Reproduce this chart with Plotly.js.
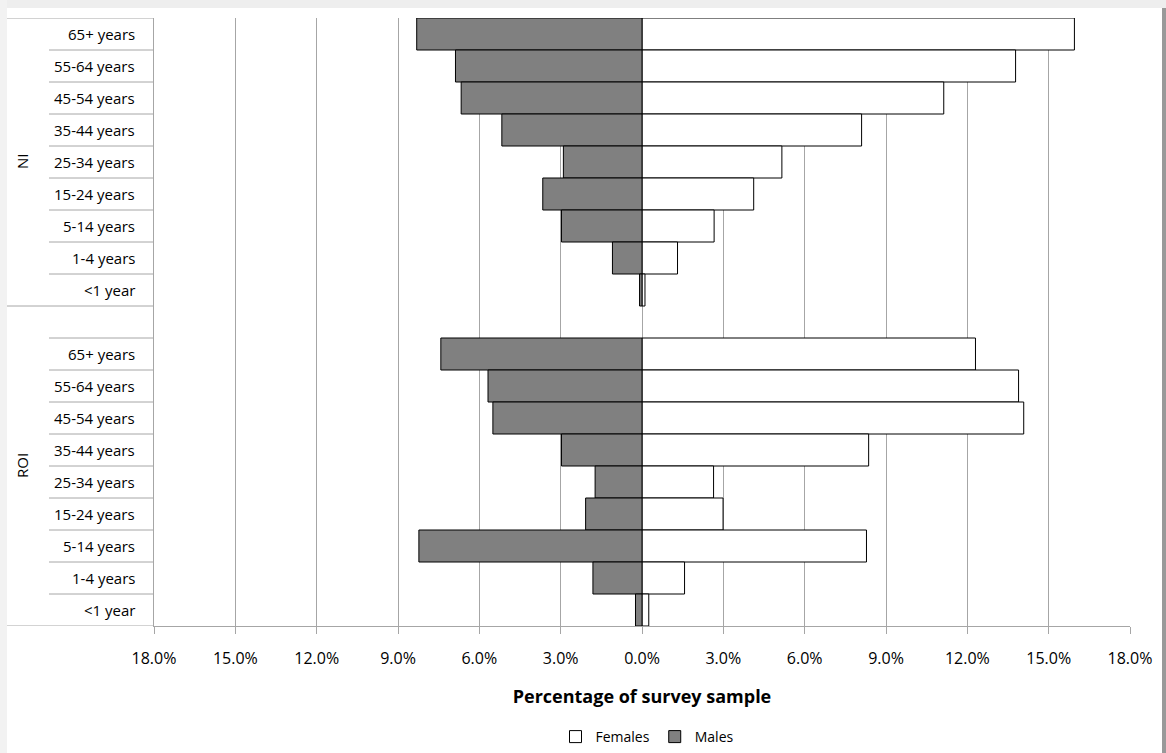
<!DOCTYPE html>
<html>
<head>
<meta charset="utf-8">
<script src="https://cdn.plot.ly/plotly-3.0.1.min.js"></script>
<style>
  html, body { margin: 0; padding: 0; background: #ffffff; overflow: hidden; }
  #chart { width: 1166px; height: 753px; }
</style>
</head>
<body>
<div id="chart"></div>
<script>
// ---- data (percent of survey sample) ----
var ageGroups = ["65+ years", "55-64 years", "45-54 years", "35-44 years", "25-34 years",
                 "15-24 years", "5-14 years", "1-4 years", "<1 year"];
var regions = ["NI", "ROI"];
var niFemales  = [15.95, 13.78, 11.13, 8.10, 5.16, 4.12, 2.66, 1.31, 0.11];
var niMales    = [8.31, 6.88, 6.67, 5.17, 2.90, 3.66, 2.97, 1.09, 0.09];
var roiFemales = [12.30, 13.89, 14.08, 8.36, 2.64, 2.99, 8.28, 1.57, 0.25];
var roiMales   = [7.42, 5.68, 5.50, 2.97, 1.73, 2.08, 8.23, 1.81, 0.24];
var tickValues = [-18, -15, -12, -9, -6, -3, 0, 3, 6, 9, 12, 15, 18];
var seriesNames = ["Females", "Males"];
var xTitle = "Percentage of survey sample";

// ---- categories (bottom to top) ----
function key(region, age) { return region + " | " + age; }
var blankKey = "ROI | ";
var catOrder = [];
for (var i = ageGroups.length - 1; i >= 0; i--) catOrder.push(key("ROI", ageGroups[i]));
catOrder.push(blankKey);
for (var i = ageGroups.length - 1; i >= 0; i--) catOrder.push(key("NI", ageGroups[i]));

var yCats = [], femVals = [], maleVals = [];
ageGroups.forEach(function (a, i) { yCats.push(key("NI", a)); femVals.push(niFemales[i]); maleVals.push(-niMales[i]); });
ageGroups.forEach(function (a, i) { yCats.push(key("ROI", a)); femVals.push(roiFemales[i]); maleVals.push(-roiMales[i]); });

// ---- layout geometry ----
var FW = 1166, FH = 753, ML = 154, MR = 36, MT = 18, MB = 127;
var PW = FW - ML - MR, PH = FH - MT - MB;
function px2x(px) { return (px - ML) / PW; }
function px2y(py) { return (FH - MB - py) / PH; }

var font = "'Open Sans', sans-serif";
var gridCol = "#a6a6a6";

var shapes = [];
// frame / shadow
shapes.push({type: "rect", xref: "paper", yref: "paper", x0: px2x(0), x1: px2x(FW), y0: px2y(0), y1: px2y(8), fillcolor: "#eeeeee", line: {width: 0}, layer: "below"});
shapes.push({type: "rect", xref: "paper", yref: "paper", x0: px2x(0), x1: px2x(7), y0: px2y(0), y1: px2y(FH), fillcolor: "#f2f2f2", line: {width: 0}, layer: "below"});
shapes.push({type: "rect", xref: "paper", yref: "paper", x0: px2x(1162), x1: px2x(FW), y0: px2y(8), y1: px2y(FH), fillcolor: "#999999", line: {width: 0}, layer: "below"});

// category separators on the left
var nCat = catOrder.length;
for (var b = 1; b <= nCat; b++) {
  var yb = b - 0.5;
  var isGroup = (b === nCat || b === ageGroups.length + 1);
  shapes.push({type: "line", xref: "paper", yref: "y", x0: px2x(isGroup ? 7 : 49), x1: 0, y0: yb, y1: yb,
               line: {color: gridCol, width: 1}});
}
shapes.push({type: "line", xref: "paper", yref: "y", x0: px2x(7), x1: 0, y0: -0.5, y1: -0.5, line: {color: gridCol, width: 1}});

// labels
var annotations = [];
catOrder.forEach(function (c) {
  var lab = c.split(" | ")[1];
  if (!lab) return;
  annotations.push({xref: "paper", yref: "y", x: 0, y: c, xanchor: "right", yanchor: "middle", xshift: -17,
                    text: lab, showarrow: false, font: {family: font, size: 15, color: "#000"}});
});
annotations.push({xref: "paper", yref: "y", x: 0, y: (ageGroups.length + 1 + nCat - 1) / 2, xshift: -144,
                  text: regions[0], textangle: -90, showarrow: false, font: {family: font, size: 15, color: "#000"}});
annotations.push({xref: "paper", yref: "y", x: 0, y: ageGroups.length / 2, xshift: -144,
                  text: regions[1], textangle: -90, showarrow: false, font: {family: font, size: 15, color: "#000"}});

var traces = [
  {type: "bar", orientation: "h", name: seriesNames[0], y: yCats, x: femVals,
   marker: {color: "#ffffff", line: {color: "#000000", width: 1}}, hoverinfo: "skip"},
  {type: "bar", orientation: "h", name: seriesNames[1], y: yCats, x: maleVals,
   marker: {color: "#808080", line: {color: "#000000", width: 1}}, hoverinfo: "skip"}
];

var layout = {
  width: FW, height: FH,
  margin: {l: ML, r: MR, t: MT, b: MB, autoexpand: false},
  paper_bgcolor: "#ffffff", plot_bgcolor: "#ffffff",
  barmode: "overlay", bargap: 0,
  font: {family: font, color: "#000"},
  showlegend: true,
  legend: {orientation: "h", x: px2x(647), xanchor: "center", y: px2y(737), yanchor: "middle",
           font: {family: font, size: 14}, traceorder: "normal", itemwidth: 30, bgcolor: "rgba(0,0,0,0)"},
  xaxis: {
    range: [-18, 18], tickvals: tickValues,
    ticktext: tickValues.map(function (v) { return Math.abs(v).toFixed(1) + "%"; }),
    showgrid: true, gridcolor: gridCol, gridwidth: 1, zeroline: false,
    showline: true, linecolor: gridCol, linewidth: 1,
    ticks: "outside", ticklen: 7, tickcolor: gridCol, tickwidth: 1,
    tickfont: {family: font, size: 16, color: "#000"}, ticklabelstandoff: 11,
    title: {text: xTitle, font: {family: font, size: 18, color: "#000", weight: "bold"}, standoff: 22},
    automargin: false, fixedrange: true
  },
  yaxis: {
    type: "category", categoryorder: "array", categoryarray: catOrder, range: [-0.5, nCat - 0.5],
    showticklabels: false, showgrid: false, zeroline: false, ticks: "",
    showline: true, linecolor: gridCol, linewidth: 1, automargin: false, fixedrange: true
  },
  shapes: shapes,
  annotations: annotations
};

Plotly.newPlot("chart", traces, layout, {displayModeBar: false, staticPlot: true});
</script>
</body>
</html>
